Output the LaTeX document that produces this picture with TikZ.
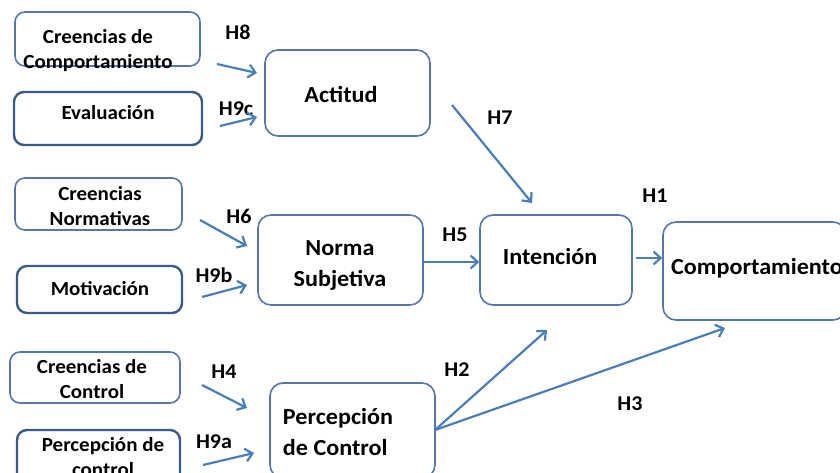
\documentclass[tikz,border=0pt]{standalone}
\usepackage{fontspec}
\setmainfont{Carlito}[FakeStretch=1.05]
\usetikzlibrary{arrows.meta}
\definecolor{boxc}{HTML}{5577AA}
\definecolor{boxd}{HTML}{3A5A8C}
\definecolor{arrc}{HTML}{4A7EBB}
\begin{document}
\begin{tikzpicture}[x=1pt,y=-1pt,
  box/.style={draw=boxc, line width=1.6pt, rounded corners=10pt, fill=white, inner sep=0pt},
  boxdark/.style={box, draw=boxd, line width=2.4pt},
  bigbox/.style={box, rounded corners=13pt},
  smalltxt/.style={font=\bfseries\fontsize{20}{25}\selectfont, align=center, inner sep=0pt},
  bigtxt/.style={font=\bfseries\fontsize{23}{31}\selectfont, align=center, inner sep=0pt},
  hlab/.style={font=\bfseries\fontsize{21}{21}\selectfont, inner sep=0pt},
  arr/.style={draw=arrc, line width=2.2pt, -{Straight Barb[length=7pt,width=13pt,line width=2.2pt]}}
]
\useasboundingbox (0,0) rectangle (840,473);
\clip (0,0) rectangle (840,473);
\fill[white] (0,0) rectangle (840,473);

% left column boxes
\node[box, minimum width=185pt, minimum height=54pt] (cbc) at (107.5,39) {};
\node[smalltxt] (cbct) at (98,51) {Creencias de\\Comportamiento};
\node[boxdark, minimum width=188pt, minimum height=53pt] (eva) at (108,118.5) {};
\node[smalltxt] (evat) at (108,113) {Evaluación};

\node[box, minimum width=167pt, minimum height=52pt] (cn) at (98.5,204) {};
\node[smalltxt] (cnt) at (100,206) {Creencias\\Normativas};
\node[boxdark, minimum width=165pt, minimum height=47pt] (mot) at (99.5,289.5) {};
\node[smalltxt] (mott) at (100,289) {Motivación};

\node[box, minimum width=170pt, minimum height=51pt] (cc) at (95,377.5) {};
\node[smalltxt] (cct) at (92,379) {Creencias de\\Control};
\node[boxdark, minimum width=163pt, minimum height=58pt] (pc) at (98.5,459) {};
\node[smalltxt] (pct) at (103,457) {Percepción de\\control};

% middle boxes
\node[bigbox, minimum width=165pt, minimum height=86pt] (act) at (347.5,93) {};
\node[bigtxt] (actt) at (341,94) {Actitud};
\node[bigbox, minimum width=165pt, minimum height=90pt] (ns) at (340.5,260) {};
\node[bigtxt] (nst) at (340,265) {Norma\\Subjetiva};
\node[bigbox, minimum width=165pt, minimum height=95pt] (pco) at (352.5,430.5) {};
\node[bigtxt, align=left] (pcot) at (338,432) {Percepción\\de Control};

% right boxes
\node[bigbox, minimum width=152pt, minimum height=90pt] (int) at (556,260) {};
\node[bigtxt] (intt) at (550,257) {Intención};
\node[bigbox, minimum width=183pt, minimum height=98pt] (comp) at (754.5,271) {};
\node[bigtxt, anchor=west] (compt) at (671,268) {Comportamiento};

% labels
\node[hlab] (h8) at (238,32) {H8};
\node[hlab] (h9c) at (236,109) {H9c};
\node[hlab] (h7) at (500,118) {H7};
\node[hlab] (h1) at (655,196) {H1};
\node[hlab] (h5) at (455,235) {H5};
\node[hlab] (h6) at (239,216) {H6};
\node[hlab] (h9b) at (214,275) {H9b};
\node[hlab] (h4) at (224,372) {H4};
\node[hlab] (h9a) at (214,442) {H9a};
\node[hlab] (h2) at (457,370) {H2};
\node[hlab] (h3) at (630,404) {H3};

% arrow ends
\coordinate (a8s) at (217,64);  \coordinate (a8e) at (257,73);
\coordinate (a9cs) at (220,126); \coordinate (a9ce) at (257,117);
\coordinate (a7s) at (452,105); \coordinate (a7e) at (532,203);
\coordinate (a6s) at (200,220); \coordinate (a6e) at (247,246);
\coordinate (a9bs) at (202,297); \coordinate (a9be) at (247,285);
\coordinate (a4s) at (202,385); \coordinate (a4e) at (247,408);
\coordinate (a9as) at (203,465); \coordinate (a9ae) at (254,453);
\coordinate (a2e) at (547,330);
\coordinate (a3e) at (725,328);
\coordinate (pcoa) at (435,430);

\draw[arr] (a8s) -- (a8e);
\draw[arr] (a9cs) -- (a9ce);
\draw[arr] (a7s) -- (a7e);
\draw[arr] (a6s) -- (a6e);
\draw[arr] (a9bs) -- (a9be);
\draw[arr] (a4s) -- (a4e);
\draw[arr] (a9as) -- (a9ae);
\draw[arr] (ns.east |- 0,262) -- (int.west |- 0,262);
\draw[arr, shorten <=3pt] (int.east |- 0,258) -- (comp.west |- 0,258);
\draw[arr] (pcoa) -- (a2e);
\draw[arr] (pcoa) -- (a3e);
\end{tikzpicture}
\end{document}
